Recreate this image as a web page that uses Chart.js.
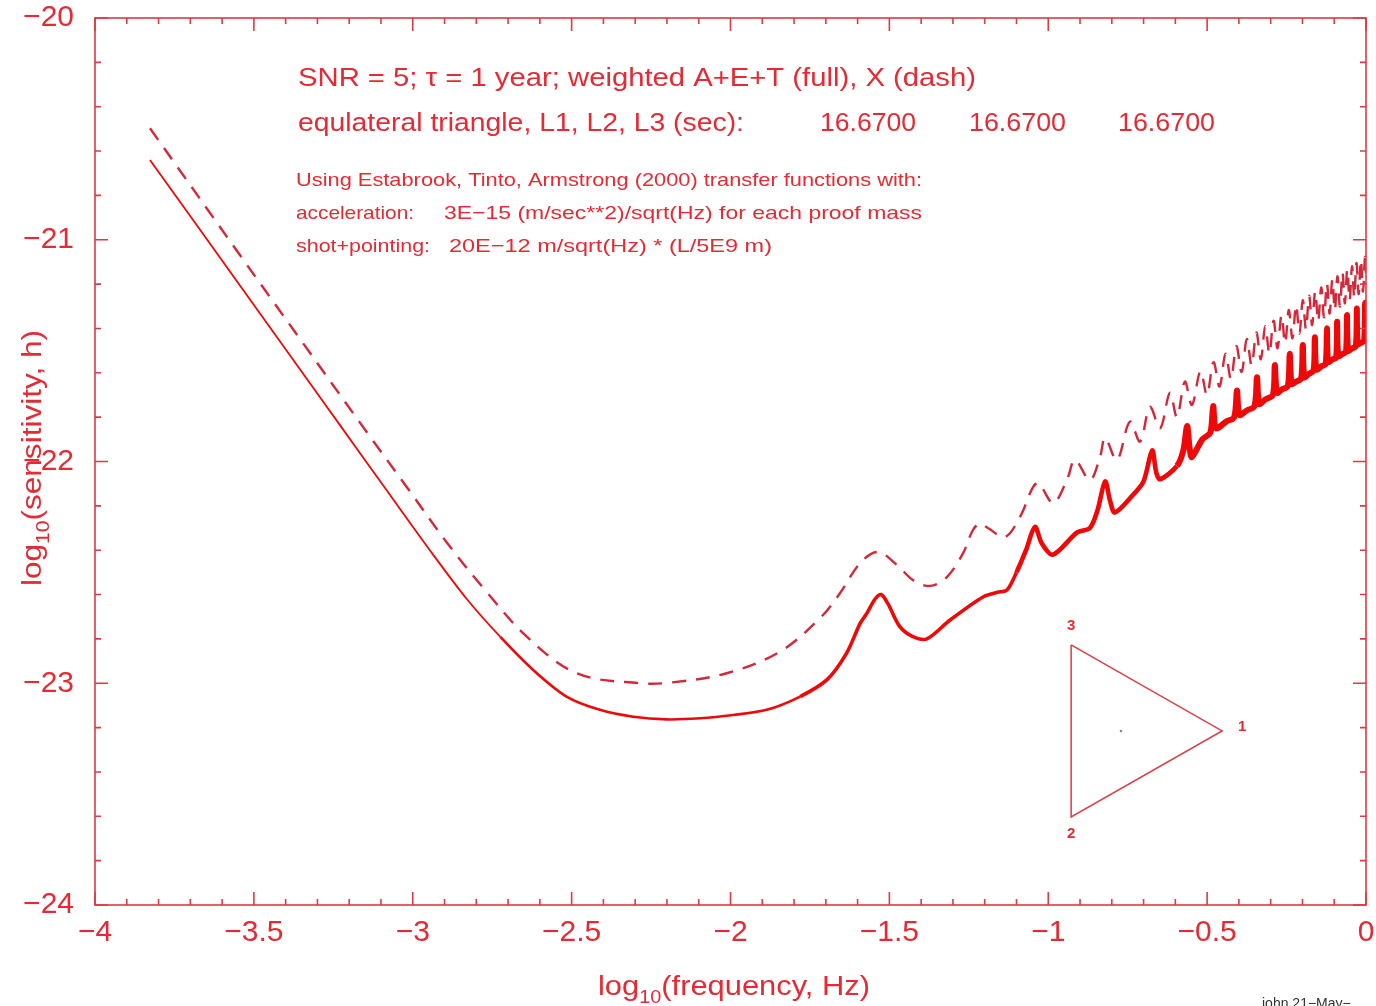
<!DOCTYPE html>
<html>
<head>
<meta charset="utf-8">
<script src="https://cdn.jsdelivr.net/npm/chart.js@4.4.0/dist/chart.umd.min.js"></script>
<style>
html,body{margin:0;padding:0;background:#fff;}
#c{display:block;}
</style>
</head>
<body>
<canvas id="c" width="1376" height="1006"></canvas>
<script>
// ---------- data ----------
const xTickValues = [-4, -3.5, -3, -2.5, -2, -1.5, -1, -0.5, 0];
const yTickValues = [-24, -23, -22, -21, -20];

// weighted A+E+T (full)
const solidX = [-3.827,-3.523,-3.355,-3.229,-3.124,-3.040,-2.936,-2.830,-2.725,-2.621,-2.516,-2.411,-2.306,-2.201,-2.096,-1.991,-1.886,-1.781,-1.697,-1.635,-1.592,-1.571,-1.545,-1.526,-1.505,-1.467,-1.426,-1.382,-1.309,-1.204,-1.16,-1.13,-1.10,-1.07,-1.042,-1.02,-0.985,-0.909,-0.869,-0.845,-0.821,-0.805,-0.79,-0.733,-0.70,-0.673,-0.660,-0.648,-0.595,-0.575,-0.563,-0.555,-0.548,-0.515,-0.49,-0.481,-0.472,-0.44,-0.415,-0.406,-0.398,-0.375,-0.351,-0.343,-0.336,-0.317,-0.293,-0.287,-0.280,-0.265,-0.246,-0.240,-0.234,-0.22,-0.204,-0.199,-0.194,-0.18,-0.165,-0.161,-0.156,-0.14,-0.127,-0.123,-0.119,-0.106,-0.094,-0.091,-0.087,-0.074,-0.063,-0.060,-0.056,-0.044,-0.032,-0.029,-0.026,-0.016,-0.006,-0.003,0.0];
const solidY = [-20.64,-21.248,-21.584,-21.836,-22.046,-22.214,-22.42,-22.62,-22.79,-22.94,-23.06,-23.12,-23.151,-23.163,-23.158,-23.143,-23.12,-23.06,-22.985,-22.865,-22.73,-22.685,-22.62,-22.60,-22.64,-22.745,-22.79,-22.80,-22.715,-22.61,-22.59,-22.58,-22.50,-22.40,-22.295,-22.37,-22.42,-22.32,-22.30,-22.22,-22.09,-22.18,-22.23,-22.15,-22.09,-21.95,-22.05,-22.08,-22.02,-21.95,-21.84,-21.94,-21.98,-21.90,-21.87,-21.75,-21.85,-21.82,-21.80,-21.68,-21.79,-21.77,-21.75,-21.62,-21.74,-21.72,-21.70,-21.565,-21.69,-21.675,-21.66,-21.515,-21.65,-21.64,-21.625,-21.475,-21.62,-21.605,-21.59,-21.44,-21.585,-21.57,-21.56,-21.40,-21.55,-21.54,-21.53,-21.37,-21.525,-21.515,-21.505,-21.34,-21.50,-21.49,-21.48,-21.31,-21.47,-21.465,-21.455,-21.285,-21.45];

// X (dash)
const dashX = [-3.827,-3.544,-3.355,-3.145,-3.019,-2.893,-2.773,-2.641,-2.484,-2.285,-2.190,-2.012,-1.844,-1.718,-1.655,-1.592,-1.536,-1.476,-1.426,-1.372,-1.319,-1.268,-1.237,-1.215,-1.19,-1.136,-1.089,-1.035,-0.985,-0.941,-0.916,-0.869,-0.837,-0.821,-0.784,-0.743,-0.711,-0.680,-0.648,-0.617,-0.595,-0.570,-0.548,-0.521,-0.5005,-0.480,-0.461,-0.442,-0.425,-0.408,-0.3915,-0.375,-0.36,-0.345,-0.331,-0.317,-0.304,-0.291,-0.2785,-0.266,-0.2545,-0.243,-0.2315,-0.220,-0.2095,-0.199,-0.189,-0.179,-0.1695,-0.160,-0.1505,-0.141,-0.132,-0.123,-0.1145,-0.106,-0.098,-0.090,-0.082,-0.074,-0.0665,-0.059,-0.0515,-0.044,-0.037,-0.030,-0.023,-0.016,-0.0095,-0.003,0.0];
const dashY = [-20.497,-21.069,-21.447,-21.867,-22.115,-22.365,-22.579,-22.79,-22.955,-23.0,-22.997,-22.955,-22.857,-22.706,-22.593,-22.458,-22.408,-22.467,-22.534,-22.561,-22.521,-22.413,-22.309,-22.28,-22.30,-22.34,-22.25,-22.097,-22.187,-22.083,-21.993,-22.083,-21.98,-21.894,-21.993,-21.82,-21.91,-21.754,-21.85,-21.69,-21.8,-21.64,-21.745,-21.593,-21.70,-21.552,-21.662,-21.514,-21.628,-21.48,-21.596,-21.448,-21.566,-21.418,-21.539,-21.39,-21.513,-21.365,-21.489,-21.34,-21.466,-21.317,-21.444,-21.294,-21.423,-21.273,-21.403,-21.253,-21.385,-21.234,-21.367,-21.215,-21.349,-21.198,-21.333,-21.181,-21.317,-21.165,-21.301,-21.149,-21.287,-21.134,-21.273,-21.119,-21.259,-21.105,-21.245,-21.091,-21.233,-21.078,-21.15];

// inset triangle (vertices 3, 1, 2) and its centre
const triX = [-0.928, -0.453, -0.928, -0.928];
const triY = [-22.827, -23.215, -23.603, -22.827];
const triLabels = ['3', '1', '2'];
const centreX = [-0.771];
const centreY = [-23.215];

const L1 = 'SNR = 5; \u03C4 = 1 year; weighted A+E+T (full), X (dash)';
const L2 = 'equlateral triangle, L1, L2, L3 (sec):';
const armValues = ['16.6700', '16.6700', '16.6700'];
const L3 = 'Using Estabrook, Tinto, Armstrong (2000) transfer functions with:';
const L4a = 'acceleration:';
const L4b = '3E\u221215 (m/sec**2)/sqrt(Hz) for each proof mass';
const L5a = 'shot+pointing:';
const L5b = '20E\u221212 m/sqrt(Hz) * (L/5E9 m)';
const xTitle = ['log', '10', '(frequency, Hz)'];
const yTitle = ['log', '10', '(sensitivity, h)'];
const stamp = 'john 21\u2212May\u2212';

// ---------- styles ----------
const AXIS = 'rgb(222,58,68)';
const TEXT = 'rgb(228,42,52)';
const SOLID = 'rgb(238,8,8)';
const DASH = 'rgb(212,40,58)';
const FONT = "'Liberation Sans', Arial, sans-serif";

const zip = (xs, ys) => xs.map((v, i) => ({x: v, y: ys[i]}));
const fmt = v => (v === 0 ? '0' : String(v).replace('-', '\u2212'));

function fitText(ctx, text, x, base, w, font) {
  ctx.font = font;
  const m = ctx.measureText(text).width;
  ctx.save();
  ctx.translate(x, base);
  ctx.scale(w / m, 1);
  ctx.textAlign = 'left';
  ctx.textBaseline = 'alphabetic';
  ctx.fillText(text, 0, 0);
  ctx.restore();
}

function subTitle(ctx, parts, cx, base, w, size) {
  const big = size + 'px ' + FONT, small = Math.round(size * 0.66) + 'px ' + FONT;
  ctx.font = big; const w0 = ctx.measureText(parts[0]).width;
  ctx.font = small; const w1 = ctx.measureText(parts[1]).width;
  ctx.font = big; const w2 = ctx.measureText(parts[2]).width;
  const tot = w0 + w1 + w2;
  const s = w / tot;
  ctx.save();
  ctx.translate(cx - w / 2, base);
  ctx.scale(s, 1);
  ctx.textAlign = 'left'; ctx.textBaseline = 'alphabetic';
  ctx.font = big; ctx.fillText(parts[0], 0, 0);
  ctx.font = small; ctx.fillText(parts[1], w0, size * 0.28);
  ctx.font = big; ctx.fillText(parts[2], w0 + w1, 0);
  ctx.restore();
}

const decor = {
  id: 'decor',
  afterDatasetsDraw(chart) {
    const {ctx, chartArea: a, scales: {x, y}} = chart;
    ctx.save();
    ctx.strokeStyle = AXIS;
    ctx.lineWidth = 1.6;
    ctx.strokeRect(a.left, a.top, a.right - a.left, a.bottom - a.top);
    ctx.beginPath();
    for (let i = 0; i <= 40; i++) {
      const px = x.getPixelForValue(-4 + i * 0.1);
      const L = (i % 5 === 0) ? 13 : 6;
      ctx.moveTo(px, a.bottom); ctx.lineTo(px, a.bottom - L);
      ctx.moveTo(px, a.top); ctx.lineTo(px, a.top + L);
    }
    for (let i = 0; i <= 20; i++) {
      const py = y.getPixelForValue(-24 + i * 0.2);
      const L = (i % 5 === 0) ? 13 : 6;
      ctx.moveTo(a.left, py); ctx.lineTo(a.left + L, py);
      ctx.moveTo(a.right, py); ctx.lineTo(a.right - L, py);
    }
    ctx.stroke();

    // triangle labels
    ctx.fillStyle = TEXT;
    ctx.font = 'bold 15px ' + FONT;
    ctx.textAlign = 'center'; ctx.textBaseline = 'middle';
    ctx.fillText(triLabels[0], x.getPixelForValue(triX[0]), y.getPixelForValue(triY[0]) - 19);
    ctx.fillText(triLabels[1], x.getPixelForValue(triX[1]) + 20, y.getPixelForValue(triY[1]) - 4);
    ctx.fillText(triLabels[2], x.getPixelForValue(triX[2]), y.getPixelForValue(triY[2]) + 17);
    ctx.restore();
  },
  afterDraw(chart) {
    const ctx = chart.ctx;
    ctx.save();
    ctx.fillStyle = TEXT;
    const bigF = '25px ' + FONT, smallF = '19px ' + FONT;
    fitText(ctx, L1, 298, 86, 678, bigF);
    fitText(ctx, L2, 298, 131, 446, bigF);
    fitText(ctx, armValues[0], 820, 131, 96, bigF);
    fitText(ctx, armValues[1], 969, 131, 97, bigF);
    fitText(ctx, armValues[2], 1118, 131, 97, bigF);
    fitText(ctx, L3, 296, 186, 626, smallF);
    fitText(ctx, L4a, 296, 219, 118, smallF);
    fitText(ctx, L4b, 444, 219, 478, smallF);
    fitText(ctx, L5a, 296, 252, 134, smallF);
    fitText(ctx, L5b, 449, 252, 323, smallF);

    // axis titles
    subTitle(ctx, xTitle, 734, 995, 272, 28);
    ctx.save();
    ctx.translate(41, 458);
    ctx.rotate(-Math.PI / 2);
    subTitle(ctx, yTitle, 0, 0, 256, 27);
    ctx.restore();

    // stamp
    ctx.fillStyle = '#333';
    ctx.font = '14px ' + FONT;
    ctx.textAlign = 'left'; ctx.textBaseline = 'alphabetic';
    ctx.fillText(stamp, 1262, 1008);
    ctx.restore();
  }
};

new Chart(document.getElementById('c'), {
  type: 'line',
  data: {
    datasets: [
      {
        label: 'X (dash)',
        data: zip(dashX, dashY),
        borderColor: DASH,
        borderWidth: 2.4,
        borderDash: [14, 10],
        pointRadius: 0,
        tension: 0.35,
        fill: false
      },
      {
        label: 'A+E+T (full)',
        data: zip(solidX, solidY),
        borderColor: SOLID,
        borderWidth: 2,
        pointRadius: 0,
        tension: 0.3,
        fill: false,
        segment: {
          borderWidth: c => {
            const v = c.p0.parsed.x;
            if (v < -2.75) return 1.8;
            if (v < -1.8) return 2.6;
            if (v < -1.1) return 3.6;
            if (v < -0.6) return 4.6;
            return 6;
          }
        }
      },
      {
        label: 'triangle',
        data: zip(triX, triY),
        borderColor: AXIS,
        borderWidth: 1.5,
        pointRadius: 0,
        tension: 0,
        fill: false
      },
      {
        label: 'centre',
        data: zip(centreX, centreY),
        showLine: false,
        pointRadius: 1.3,
        pointBackgroundColor: '#888',
        pointBorderWidth: 0
      }
    ]
  },
  options: {
    responsive: false,
    animation: false,
    devicePixelRatio: 1,
    layout: {padding: {left: 0, right: 10, top: 18, bottom: 0}},
    plugins: {legend: {display: false}, tooltip: {enabled: false}},
    scales: {
      x: {
        type: 'linear',
        min: -4, max: 0,
        afterFit: s => { s.height = 101; s.paddingLeft = 0; s.paddingRight = 0; },
        afterBuildTicks: s => { s.ticks = xTickValues.map(v => ({value: v})); },
        grid: {display: false},
        border: {display: false},
        ticks: {
          color: TEXT,
          padding: 2,
          font: {family: FONT, size: 30},
          maxRotation: 0,
          autoSkip: false,
          callback: v => fmt(v)
        }
      },
      y: {
        type: 'linear',
        min: -24, max: -20,
        afterFit: s => { s.width = 95; s.paddingTop = 0; s.paddingBottom = 0; },
        afterBuildTicks: s => { s.ticks = yTickValues.map(v => ({value: v})); },
        grid: {display: false},
        border: {display: false},
        ticks: {
          color: TEXT,
          padding: 13,
          font: {family: FONT, size: 30},
          autoSkip: false,
          callback: v => fmt(v)
        }
      }
    }
  },
  plugins: [decor]
});
</script>
</body>
</html>
